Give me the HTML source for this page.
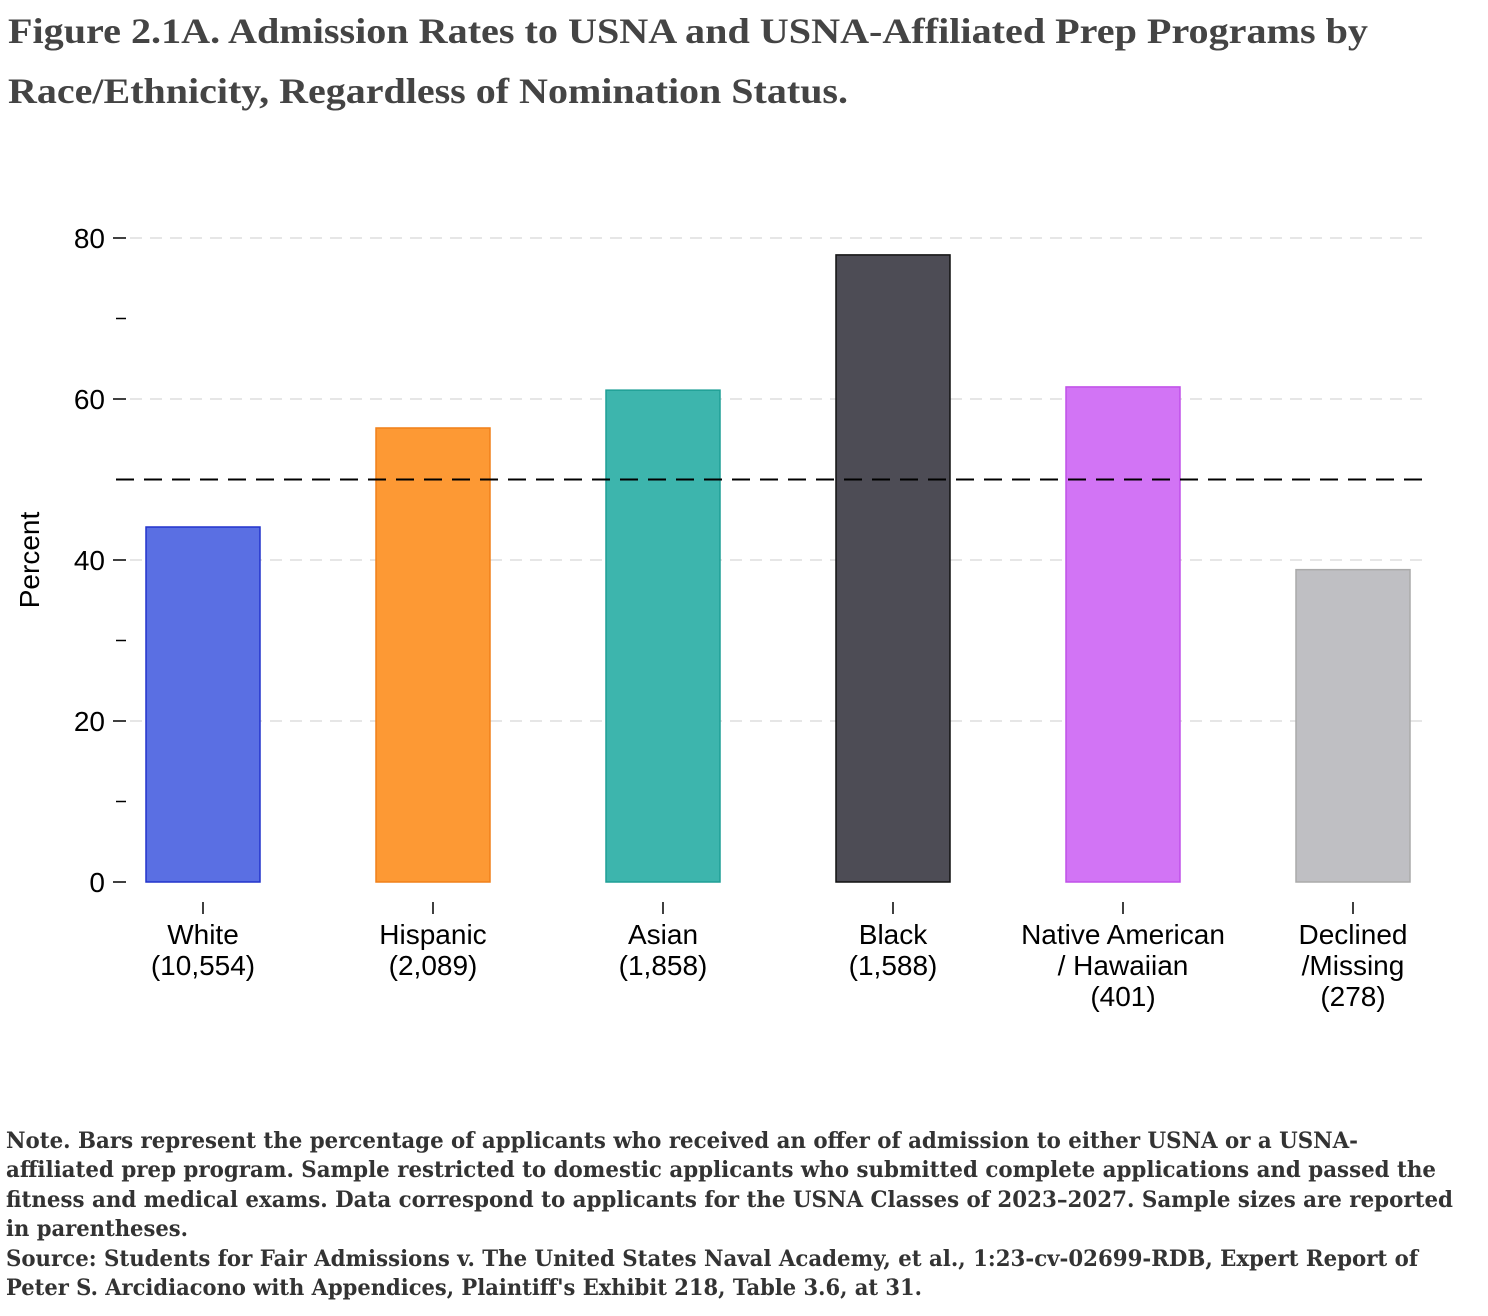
<!DOCTYPE html>
<html><head><meta charset="utf-8"><style>
html,body{margin:0;padding:0;background:#fff;}
svg{display:block;}
</style></head><body>
<svg id="chart" width="1488" height="1316" xmlns="http://www.w3.org/2000/svg">
<g font-family="Liberation Serif, serif" font-size="36" font-weight="bold" fill="#444">
<text x="8" y="43" textLength="1360" lengthAdjust="spacingAndGlyphs">Figure 2.1A. Admission Rates to USNA and USNA-Affiliated Prep Programs by</text>
<text x="8" y="103" textLength="840" lengthAdjust="spacingAndGlyphs">Race/Ethnicity, Regardless of Nomination Status.</text>
</g>
<g id="plot"></g>
<g font-family="DejaVu Serif, serif" font-size="22" font-weight="bold" fill="#333">
<text x="6" y="1148" textLength="1352" lengthAdjust="spacingAndGlyphs">Note. Bars represent the percentage of applicants who received an offer of admission to either USNA or a USNA-</text>
<text x="6" y="1177" textLength="1430" lengthAdjust="spacingAndGlyphs">affiliated prep program. Sample restricted to domestic applicants who submitted complete applications and passed the</text>
<text x="6" y="1207" textLength="1447" lengthAdjust="spacingAndGlyphs">fitness and medical exams. Data correspond to applicants for the USNA Classes of 2023–2027. Sample sizes are reported</text>
<text x="6" y="1236" textLength="182" lengthAdjust="spacingAndGlyphs">in parentheses.</text>
<text x="6" y="1266" textLength="1412" lengthAdjust="spacingAndGlyphs">Source: Students for Fair Admissions v. The United States Naval Academy, et al., 1:23-cv-02699-RDB, Expert Report of</text>
<text x="6" y="1295" textLength="916" lengthAdjust="spacingAndGlyphs">Peter S. Arcidiacono with Appendices, Plaintiff's Exhibit 218, Table 3.6, at 31.</text>
</g>
</svg>
<script>
const categories = [["White","(10,554)"],["Hispanic","(2,089)"],["Asian","(1,858)"],["Black","(1,588)"],["Native American","/ Hawaiian","(401)"],["Declined","/Missing","(278)"]];
const values = [44.1, 56.4, 61.1, 77.9, 61.5, 38.8];
const referenceLine = 50;
const majorTicks = [0, 20, 40, 60, 80];
const minorTicks = [10, 30, 50, 70];
const fills = ["#5a6fe3","#fd9934","#3db5ad","#4d4c55","#d274f5","#bfbfc3"];
const strokes = ["#2233cc","#f0801a","#1f9f96","#111","#c050e8","#aaa"];

const NS = "http://www.w3.org/2000/svg";
const g = document.getElementById("plot");
const y = v => 882 - v * 8.05;
const xc = i => 203 + i * 230;
function mk(tag, attrs, parent) {
  const e = document.createElementNS(NS, tag);
  for (const k in attrs) e.setAttribute(k, attrs[k]);
  (parent || g).appendChild(e);
  return e;
}
majorTicks.forEach(t => {
  if (t > 0) {
    const gl = mk("line", {x1:130, x2:1428, y1:y(t), y2:y(t), stroke:"#e6e6e6", "stroke-width":2, "stroke-dasharray":"12,8"});
    
    
  }
  const tk = mk("line", {x1:113, x2:126, y1:y(t), y2:y(t), stroke:"#000", "stroke-width":1.5});
  
  
  const lb = mk("text", {x:105, y:y(t)+10, "text-anchor":"end", "font-family":"Liberation Sans, sans-serif", "font-size":28});
  lb.textContent = t;
  
  
});
minorTicks.forEach(t => {
  const tk = mk("line", {x1:116, x2:126, y1:y(t), y2:y(t), stroke:"#000", "stroke-width":1.5});
  
  
});
const yt = mk("text", {x:0, y:0, transform:"translate(39,560) rotate(-90)", "text-anchor":"middle", "font-family":"Liberation Sans, sans-serif", "font-size":28});
yt.textContent = "Percent";


values.forEach((v, i) => {
  const b = mk("rect", {x:xc(i)-57, y:y(v), width:114, height:y(0)-y(v), fill:fills[i], stroke:strokes[i], "stroke-width":1.5});
  
  
  const tk = mk("line", {x1:xc(i), x2:xc(i), y1:902, y2:914, stroke:"#000", "stroke-width":1.5});
  
  
  categories[i].forEach((line, j) => {
    const t = mk("text", {x:xc(i), y:944 + j*31, "text-anchor":"middle", "font-family":"Liberation Sans, sans-serif", "font-size":28});
    t.textContent = line;
    
    
  });
});
const rl = mk("line", {x1:116, x2:1428, y1:y(referenceLine), y2:y(referenceLine), stroke:"#000", "stroke-width":2, "stroke-dasharray":"18,10"});


</script>
</body></html>
